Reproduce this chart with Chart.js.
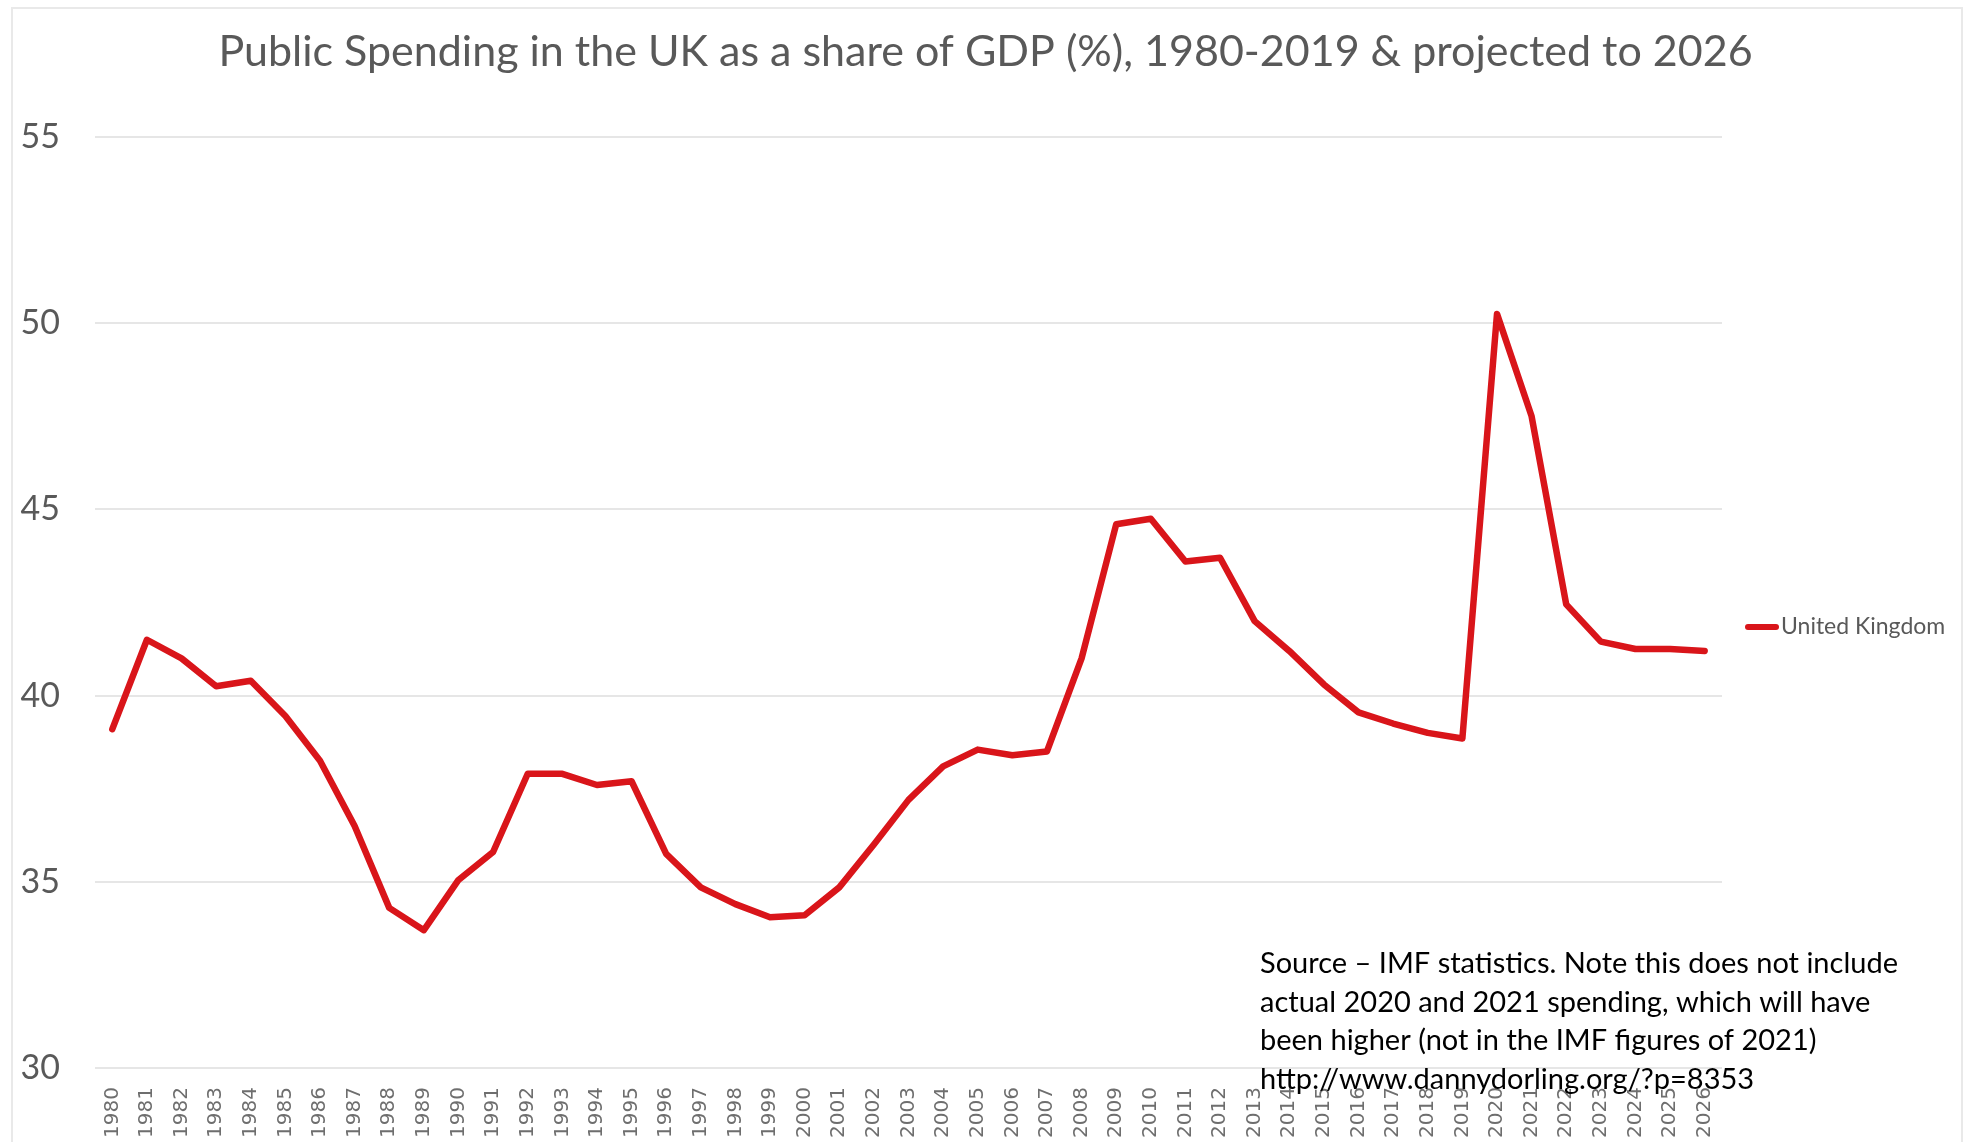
<!DOCTYPE html>
<html>
<head>
<meta charset="utf-8">
<title>Public Spending in the UK</title>
<script src="https://cdn.jsdelivr.net/npm/chart.js@4/dist/chart.umd.min.js"></script>
<style>
  html, body { margin:0; padding:0; background:#fff; overflow:hidden; }
  #wrap { position:relative; width:1971px; height:1142px; }
  #frame { position:absolute; left:11px; top:7px; width:1948px; height:1200px; border:2px solid #e9e9e9; pointer-events:none; }
  canvas { position:absolute; left:0; top:0; }
</style>
</head>
<body>
<div id="wrap">
  <canvas id="chartSpending" width="1971" height="1142"></canvas>
  <div id="frame"></div>
</div>
<script>
const years = ['1980','1981','1982','1983','1984','1985','1986','1987','1988','1989',
  '1990','1991','1992','1993','1994','1995','1996','1997','1998','1999',
  '2000','2001','2002','2003','2004','2005','2006','2007','2008','2009',
  '2010','2011','2012','2013','2014','2015','2016','2017','2018','2019',
  '2020','2021','2022','2023','2024','2025','2026'];

// general government expenditure, % of GDP
const ukSpending = [39.1, 41.5, 41.0, 40.25, 40.4, 39.45, 38.25, 36.5, 34.3, 33.7,
  35.05, 35.8, 37.9, 37.9, 37.6, 37.7, 35.75, 34.85, 34.4, 34.05,
  34.1, 34.85, 36.0, 37.2, 38.1, 38.55, 38.4, 38.5, 41.0, 44.6,
  44.75, 43.6, 43.7, 42.0, 41.2, 40.3, 39.55, 39.25, 39.0, 38.85,
  50.25, 47.5, 42.45, 41.45, 41.25, 41.25, 41.2];

const yTicks = [30, 35, 40, 45, 50, 55];

const sourceNote = [
  'Source \u2013 IMF statistics. Note this does not include',
  'actual 2020 and 2021 spending, which will have',
  'been higher (not in the IMF figures of 2021)',
  'http://www.dannydorling.org/?p=8353'
];

const RED = '#d9151a';
const GREY = '#595959';

// legend on the right plus the source note in the corner
const extras = {
  id: 'extras',
  afterDraw(chart){
    const ctx = chart.ctx;
    const ds = chart.data.datasets[0];
    ctx.save();
    ctx.strokeStyle = ds.borderColor;
    ctx.lineWidth = 6;
    ctx.lineCap = 'round';
    ctx.beginPath();
    ctx.moveTo(1748, 627);
    ctx.lineTo(1776, 627);
    ctx.stroke();
    ctx.fillStyle = GREY;
    ctx.font = '23px Lato';
    ctx.textBaseline = 'alphabetic';
    ctx.fillText(ds.label, 1781, 634);

    ctx.fillStyle = '#000';
    ctx.font = '29px Lato';
    sourceNote.forEach((line, i) => ctx.fillText(line, 1260, 973 + i * 38.5));
    ctx.restore();
  }
};

new Chart(document.getElementById('chartSpending').getContext('2d'), {
  type: 'line',
  data: {
    labels: years,
    datasets: [{
      label: 'United Kingdom',
      data: ukSpending,
      borderColor: RED,
      borderWidth: 6.5,
      borderJoinStyle: 'round',
      borderCapStyle: 'round',
      pointRadius: 0,
      tension: 0,
      fill: false
    }]
  },
  options: {
    responsive: false,
    animation: false,
    devicePixelRatio: 1,
    layout: { padding: 0 },
    plugins: {
      legend: { display: false },
      tooltip: { enabled: false },
      title: {
        display: true,
        text: 'Public Spending in the UK as a share of GDP (%), 1980-2019 & projected to 2026',
        color: GREY,
        font: { family: 'Lato', size: 43, weight: 'normal' },
        padding: { top: 26, bottom: 59.4 }
      }
    },
    scales: {
      x: {
        type: 'category',
        offset: true,
        grid: { display: false, drawTicks: false },
        border: { display: false },
        ticks: {
          autoSkip: false,
          minRotation: 90,
          maxRotation: 90,
          padding: 19,
          color: '#6e6e6e',
          font: { family: 'DejaVu Sans', size: 20 }
        },
        afterFit(scale){ scale.height = 74; }
      },
      y: {
        min: 30,
        max: 55,
        afterBuildTicks(scale){ scale.ticks = yTicks.map(v => ({ value: v })); },
        grid: { color: '#e6e6e6', lineWidth: 2, drawTicks: false },
        border: { display: false },
        ticks: {
          padding: 35,
          color: GREY,
          font: { family: 'Lato', size: 34 }
        },
        afterFit(scale){ scale.width = 95; }
      },
      // empty strip on the right that holds the legend
      side: {
        type: 'linear',
        position: 'right',
        display: true,
        grid: { display: false, drawTicks: false },
        border: { display: false },
        ticks: { display: false },
        afterFit(scale){ scale.width = 249; }
      }
    }
  },
  plugins: [extras]
});
</script>
</body>
</html>
